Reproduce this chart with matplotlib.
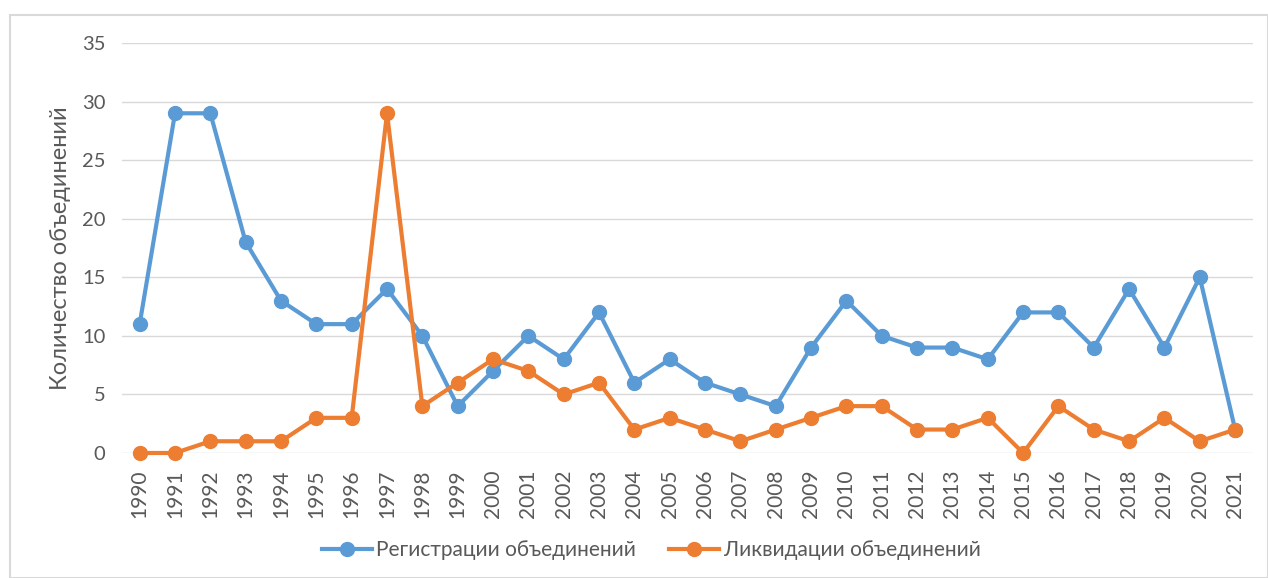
import numpy as np
import matplotlib.pyplot as plt
from matplotlib.patches import Rectangle

years = list(range(1990, 2022))
registrations = [11, 29, 29, 18, 13, 11, 11, 14, 10, 4, 7, 10, 8, 12, 6, 8,
                 6, 5, 4, 9, 13, 10, 9, 9, 8, 12, 12, 9, 14, 9, 15, 2]
liquidations = [0, 0, 1, 1, 1, 3, 3, 29, 4, 6, 8, 7, 5, 6, 2, 3,
                2, 1, 2, 3, 4, 4, 2, 2, 3, 0, 4, 2, 1, 3, 1, 2]

plt.rcParams['font.family'] = ['Lato', 'DejaVu Sans']
text_col = '#595959'

fig = plt.figure(figsize=(12.68, 5.78), dpi=100)
ax = fig.add_axes([0.0962, 0.2163, 0.8918, 0.7093])

x = np.arange(len(years))
ax.plot(x, registrations, color='#5B9BD5', lw=3, marker='o', ms=10,
        label='Регистрации объединений', zorder=3, clip_on=False)
ax.plot(x, liquidations, color='#ED7D31', lw=3, marker='o', ms=10,
        label='Ликвидации объединений', zorder=4, clip_on=False)

ax.set_xlim(-0.5, len(years) - 0.5)
ax.set_ylim(0, 35)
ax.set_yticks(range(0, 36, 5))
ax.set_xticks(x)
ax.set_xticklabels([str(y) for y in years], rotation=90)
ax.tick_params(axis='y', length=0, labelsize=14.5, colors=text_col, pad=12)
ax.tick_params(axis='x', length=0, labelsize=15, colors=text_col, pad=12)
ax.grid(axis='y', color='#D9D9D9', lw=1)
ax.set_axisbelow(True)
for s in ax.spines.values():
    s.set_visible(False)
ax.set_ylabel('Количество объединений', fontsize=17, color=text_col, labelpad=8)

ax.legend(loc='center', bbox_to_anchor=(0.468, -0.237), ncol=2, frameon=False,
          fontsize=15, labelcolor=text_col, handlelength=2.4, columnspacing=1.6,
          handletextpad=0.2)

fig.patches.append(Rectangle((10 / 1268, 0), 1 - 10 / 1268, 1 - 15 / 578,
                             transform=fig.transFigure, fill=False,
                             edgecolor='#D9D9D9', lw=1.5))

fig.savefig('out.png', dpi=100)
